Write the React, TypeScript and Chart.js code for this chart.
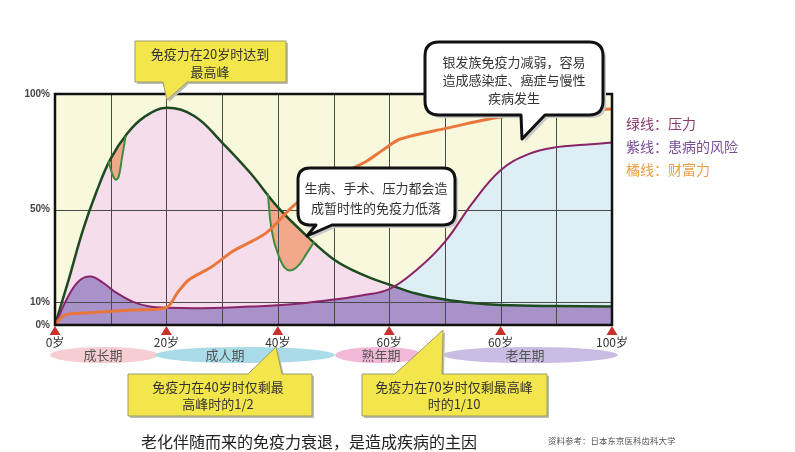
import { useEffect, useRef } from 'react';
import { Chart, ChartConfiguration, registerables } from 'chart.js';

Chart.register(...registerables);

// immune line (green)
const greenAges = [0, 1, 2.5, 5, 7.5, 10, 13, 16, 20, 25, 30, 35, 40, 45, 50, 55, 60, 65, 70, 75, 80, 90, 100];
const greenValues = [0, 8, 20, 41, 58, 72, 83, 90, 94, 90.5, 79, 66, 51, 39, 28.5, 22, 17.5, 13.5, 11, 9.5, 8.7, 8.2, 8];

// disease risk (purple)
const purpleAges = [0, 2.5, 4.5, 6.5, 8.5, 11, 14, 17, 20, 25, 30, 35, 40, 45, 50, 55, 60, 65, 70, 75, 80, 85, 90, 95, 100];
const purpleValues = [0, 13, 19.5, 21, 18.5, 14, 10, 8, 7.5, 7.3, 7.5, 8, 8.5, 9.5, 11, 12.8, 15.5, 24, 36, 53, 67, 74, 77, 78, 79];

// wealth (orange)
const orangeAges = [0, 1, 2, 5, 8, 14, 20, 22, 24, 28, 32, 38, 43, 48, 52, 56, 59, 62, 70, 80, 90, 100];
const orangeValues = [0, 3, 4.5, 5.2, 5.6, 6.5, 7.5, 14, 19.5, 25, 32, 40, 52, 60, 66, 71, 76, 80.5, 85, 90, 92.5, 93.5];

// temporary immune drops
const dip1Ages = [9.6, 10.2, 10.8, 11.4, 12.0, 12.7];
const dip1Values = [71, 66, 63, 64, 72, 82];
const dip2Ages = [38.2, 38.9, 40, 41.6, 43.4, 45.2, 46.5];
const dip2Values = [57, 41, 31, 24, 25, 31, 36];

const xGridValues = [0, 10, 20, 30, 40, 50, 60, 70, 80, 90, 100];
const xTickValues = [0, 20, 40, 60, 80, 100];
const xTickLabels = ['0岁', '20岁', '40岁', '60岁', '60岁', '100岁'];
const yTickValues = [0, 10, 50, 100];
const yTickLabels = ['0%', '10%', '50%', '100%'];

const legendItems = ['绿线：压力', '紫线：患病的风险', '橘线：财富力'];
const legendColors = ['#8c3d6e', '#7a4b9a', '#e6a044'];

const CJK = '"Noto Sans CJK SC", sans-serif';

const pts = (xs: number[], ys: number[]) => xs.map((x, i) => ({ x, y: ys[i] }));

const decor = {
  id: 'decor',
  beforeDraw(chart: any) {
    const { ctx, chartArea: a } = chart;
    ctx.save();
    ctx.fillStyle = '#f8f8dd';
    ctx.fillRect(a.left, a.top, a.width, a.height);
    ctx.restore();
  },
  beforeDatasetsDraw(chart: any) {
    const { ctx, chartArea: a, scales } = chart;
    ctx.save();
    ctx.strokeStyle = '#4a4a4a';
    ctx.lineWidth = 1;
    ctx.beginPath();
    xGridValues.forEach(v => {
      const px = Math.round(scales.x.getPixelForValue(v)) + 0.5;
      ctx.moveTo(px, a.top);
      ctx.lineTo(px, a.bottom);
    });
    yTickValues.forEach(v => {
      const py = Math.round(scales.y.getPixelForValue(v)) + 0.5;
      ctx.moveTo(a.left, py);
      ctx.lineTo(a.right, py);
    });
    ctx.stroke();
    ctx.restore();
  },
  afterDatasetsDraw(chart: any) {
    const { ctx, chartArea: a, scales } = chart;
    ctx.save();
    ctx.strokeStyle = '#111';
    ctx.lineWidth = 2.5;
    ctx.strokeRect(a.left, a.top, a.width, a.height);
    ctx.fillStyle = '#c9322c';
    xTickValues.forEach(v => {
      const px = scales.x.getPixelForValue(v);
      ctx.beginPath();
      ctx.moveTo(px, a.bottom + 1);
      ctx.lineTo(px + 5.5, a.bottom + 10);
      ctx.lineTo(px - 5.5, a.bottom + 10);
      ctx.closePath();
      ctx.fill();
    });
    ctx.restore();
  },
};

function ImmuneChart() {
  const chartRef = useRef<HTMLCanvasElement>(null);
  const chartInstance = useRef<Chart | null>(null);

  useEffect(() => {
    if (!chartRef.current) return;
    if (chartInstance.current) chartInstance.current.destroy();

    const line = { pointRadius: 0, tension: 0.4 };

    const config: ChartConfiguration = {
      type: 'line',
      data: {
        datasets: [
          { ...line, tension: 0.3, label: '财富力', data: pts(orangeAges, orangeValues), borderColor: '#e9773c', borderWidth: 3, fill: false },
          { ...line, label: 'dip1', data: pts(dip1Ages, dip1Values), borderColor: '#3f8c3f', borderWidth: 2, backgroundColor: '#f2a98b', fill: 5 },
          { ...line, label: 'dip2', data: pts(dip2Ages, dip2Values), borderColor: '#3f8c3f', borderWidth: 2, backgroundColor: '#f2a98b', fill: 5 },
          { ...line, label: '患病的风险', data: pts(purpleAges, purpleValues), borderColor: '#8a2468', borderWidth: 2, fill: { target: 5, above: '#ddeef5', below: 'rgba(0,0,0,0)' } },
          { ...line, label: 'risk base', data: pts(purpleAges, purpleValues), borderWidth: 0, borderColor: 'rgba(0,0,0,0)', backgroundColor: '#a991c9', fill: 'origin' },
          { ...line, label: '免疫力', data: pts(greenAges, greenValues), borderColor: '#1d4a20', borderWidth: 2.5, backgroundColor: '#f6ddeb', fill: 'origin' },
        ],
      },
      options: {
        responsive: false,
        animation: false,
        layout: { padding: { top: 94, right: 183, left: 0, bottom: 0 } },
        scales: {
          x: {
            type: 'linear',
            min: 0,
            max: 100,
            afterBuildTicks: (s: any) => { s.ticks = xGridValues.map(v => ({ value: v })); },
            afterFit: (s: any) => { s.height = 127; },
            grid: { display: false, drawTicks: false },
            border: { display: false },
            ticks: {
              autoSkip: false,
              maxRotation: 0,
              padding: 10,
              color: '#333',
              font: { family: CJK, size: 12 },
              callback: (v: any) => {
                const i = xTickValues.indexOf(Number(v));
                return i >= 0 ? xTickLabels[i] : '';
              },
            },
          },
          y: {
            type: 'linear',
            min: 0,
            max: 100,
            afterBuildTicks: (s: any) => { s.ticks = yTickValues.map(v => ({ value: v })); },
            afterFit: (s: any) => { s.width = 55; },
            grid: { display: false, drawTicks: false },
            border: { display: false },
            ticks: {
              padding: 5,
              color: '#444',
              font: { family: '"Liberation Sans", Arial, sans-serif', size: 10, weight: 'bold' },
              callback: (v: any) => {
                const i = yTickValues.indexOf(Number(v));
                return i >= 0 ? yTickLabels[i] : '';
              },
            },
          },
        },
        plugins: {
          legend: { display: false },
          tooltip: { enabled: false },
          filler: { drawTime: 'beforeDatasetsDraw', propagate: false },
        } as any,
      },
      plugins: [decor],
    };

    chartInstance.current = new Chart(chartRef.current, config);
    return () => {
      if (chartInstance.current) {
        chartInstance.current.destroy();
        chartInstance.current = null;
      }
    };
  }, []);

  return <canvas ref={chartRef} width={795} height={452} style={{ width: 795, height: 452, display: 'block' }} />;
}

// rounded speech bubble, pointer on the bottom edge
function bubblePath(x1: number, y1: number, x2: number, y2: number, r: number, bx1: number, bx2: number, tx: number, ty: number) {
  return `M${x1 + r},${y1} H${x2 - r} Q${x2},${y1} ${x2},${y1 + r} V${y2 - r} Q${x2},${y2} ${x2 - r},${y2} H${bx2} L${tx},${ty} L${bx1},${y2} H${x1 + r} Q${x1},${y2} ${x1},${y2 - r} V${y1 + r} Q${x1},${y1} ${x1 + r},${y1} Z`;
}

function boxPath(x1: number, y1: number, x2: number, y2: number, bx1: number, bx2: number, tx: number, ty: number, top: boolean) {
  if (top) return `M${x1},${y1} H${bx1} L${tx},${ty} L${bx2},${y1} H${x2} V${y2} H${x1} Z`;
  return `M${x1},${y1} H${x2} V${y2} H${bx2} L${tx},${ty} L${bx1},${y2} H${x1} Z`;
}

function Lines({ lines, cx, y, gap = 18 }: { lines: string[]; cx: number; y: number; gap?: number }) {
  return (
    <>
      {lines.map((t, i) => (
        <text key={i} x={cx} y={y + i * gap} textAnchor="middle" fontSize={13} fill="#333" fontFamily={CJK}>{t}</text>
      ))}
    </>
  );
}

function YellowBox({ d, lines, cx, y, gap }: { d: string; lines: string[]; cx: number; y: number; gap?: number }) {
  return (
    <g>
      <path d={d} fill="#bdbdae" transform="translate(2,2)" />
      <path d={d} fill="#f3e64c" stroke="#9c9a6e" strokeWidth={1} />
      <Lines lines={lines} cx={cx} y={y} gap={gap} />
    </g>
  );
}

function WhiteBubble({ d, lines, cx, y, gap }: { d: string; lines: string[]; cx: number; y: number; gap?: number }) {
  return (
    <g>
      <path d={d} fill="#c9c9c9" transform="translate(3,3)" />
      <path d={d} fill="#fff" stroke="#111" strokeWidth={3} strokeLinejoin="round" />
      <Lines lines={lines} cx={cx} y={y} gap={gap} />
    </g>
  );
}

const periods = [
  { label: '成长期', cx: 104, rx: 54, tx: 103, color: '#f6cdd3' },
  { label: '成人期', cx: 245, rx: 90, tx: 225, color: '#a9dbe8' },
  { label: '熟年期', cx: 379, rx: 44, tx: 381, color: '#f2b9d9' },
  { label: '老年期', cx: 530, rx: 88, tx: 525, color: '#c9bde3' },
];

export default function App() {
  useEffect(() => {
    document.body.style.margin = '0';
  }, []);

  return (
    <div style={{ position: 'relative', width: 795, height: 452, background: '#fff', overflow: 'hidden' }}>
      <ImmuneChart />
      <svg width={795} height={452} style={{ position: 'absolute', left: 0, top: 0, pointerEvents: 'none' }}>
        {periods.map(p => (
          <g key={p.label}>
            <ellipse cx={p.cx} cy={355} rx={p.rx} ry={8} fill={p.color} />
            <text x={p.tx} y={360} textAnchor="middle" fontSize={13} fill="#555" fontFamily={CJK}>{p.label}</text>
          </g>
        ))}

        <YellowBox d={boxPath(135, 41, 286, 82, 163, 187, 167, 100, false)} lines={['免疫力在20岁时达到', '最高峰']} cx={210} y={59} />
        <WhiteBubble d={bubblePath(425, 42, 603, 115, 14, 521, 545, 522, 139)} lines={['银发族免疫力减弱，容易', '造成感染症、癌症与慢性', '疾病发生']} cx={514} y={67} />
        <WhiteBubble d={bubblePath(298, 168, 455, 225, 12, 316, 332, 307, 236)} lines={['生病、手术、压力都会造', '成暂时性的免疫力低落']} cx={376} y={193} gap={20} />
        <YellowBox d={boxPath(128, 374, 312, 416, 248, 282, 276, 347, true)} lines={['免疫力在40岁时仅剩最', '高峰时的1/2']} cx={218} y={392} gap={17} />
        <YellowBox d={boxPath(362, 374, 547, 416, 395, 442, 443, 330, true)} lines={['免疫力在70岁时仅剩最高峰', '时的1/10']} cx={454} y={392} gap={17} />

        {legendItems.map((t, i) => (
          <text key={t} x={626} y={129 + i * 23} fontSize={14} fill={legendColors[i]} fontFamily={CJK}>{t}</text>
        ))}

        <text x={141} y={448} fontSize={16} fill="#222" fontFamily={CJK}>老化伴随而来的免疫力衰退，是造成疾病的主因</text>
        <text x={548} y={444} fontSize={8.5} fill="#555" fontFamily={CJK}>资料参考：日本东京医科齿科大学</text>
      </svg>
    </div>
  );
}
